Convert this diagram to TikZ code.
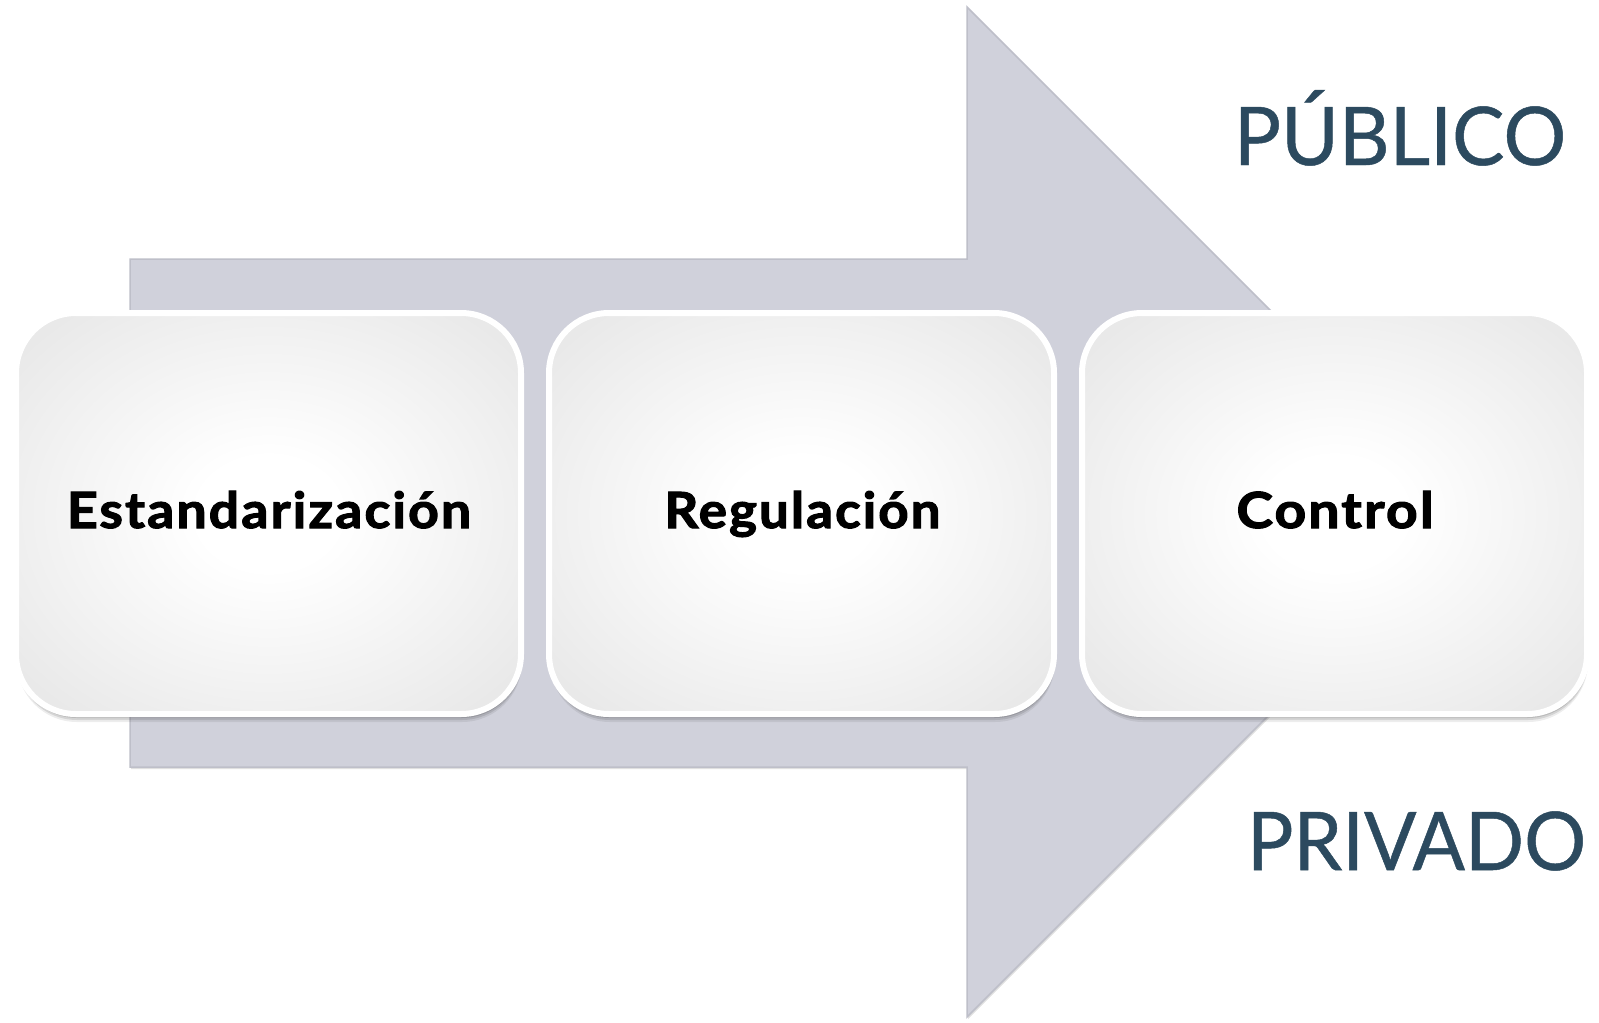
\documentclass[tikz,border=0pt]{standalone}
\usepackage{fontspec}
\setmainfont{Lato}
\newfontfamily\boxfont{Lato}[BoldFeatures={FakeBold=2.2,LetterSpace=4}]
\newfontfamily\sidefont{Lato}[FakeBold=0.6]
\usetikzlibrary{shadows}
\definecolor{arrowfill}{HTML}{D0D1DB}
\definecolor{arrowline}{HTML}{BEBFC9}
\definecolor{labelcol}{HTML}{2C4A5F}
\pgfdeclareradialshading{boxshade}{\pgfpoint{0bp}{0bp}}{color(0bp)=(white); color(7bp)=(white); color(50bp)=(black!15); color(71bp)=(black!21)}
\newcommand\fitlabel[4]{\resizebox{#1}{#2}{#3\setbox0\hbox{#4}\ht0=\fontcharht\font`E \dp0=0pt \box0}}
\tikzset{
  pbox/.style={rectangle, rounded corners=60pt, draw=white, line width=6pt,
    shading=boxshade, inner sep=0pt, minimum width=505pt, minimum height=401pt,
    drop shadow={shadow xshift=1pt, shadow yshift=-8pt, opacity=.07, fill=black},
    drop shadow={shadow xshift=1pt, shadow yshift=-6pt, opacity=.10, fill=black},
    drop shadow={shadow xshift=1pt, shadow yshift=-4pt, opacity=.12, fill=black}},
  boxtxt/.style={anchor=base, inner sep=0pt, text=black},
  sidetxt/.style={anchor=base, inner sep=0pt, text=labelcol},
  bigarrow/.style={fill=arrowfill, draw=arrowline, line width=1.5pt, line join=miter,
    drop shadow={shadow xshift=1pt, shadow yshift=-2pt, opacity=.12, fill=black}}
}
\begin{document}
\begin{tikzpicture}[x=1pt,y=-1pt]
\fill[white] (0,0) rectangle (1599,1023);
\useasboundingbox (0,0) rectangle (1599,1023);
% big arrow
\path[bigarrow] (130,259) -- (967,259) -- (967,7) -- (1472,512) -- (967,1017) -- (967,767) -- (130,767) -- cycle;
% boxes
\node[pbox] (b1) at (268.5,513.5) {};
\node[pbox] (b2) at (801.5,513.5) {};
\node[pbox] (b3) at (1334.5,513.5) {};
% box texts
\node[boxtxt] (t1) at (269,528) {\fitlabel{404pt}{36pt}{\boxfont\bfseries}{Estandarización}};
\node[boxtxt] (t2) at (802.5,528) {\fitlabel{276pt}{36pt}{\boxfont\bfseries}{Regulación}};
\node[boxtxt] (t3) at (1335,528) {\fitlabel{197pt}{36pt}{\boxfont\bfseries}{Control}};
% side labels
\node[sidetxt] (pub) at (1400,165) {\fitlabel{332pt}{58pt}{\sidefont}{PÚBLICO}};
\node[sidetxt] (priv) at (1416.5,870) {\fitlabel{339pt}{58pt}{\sidefont}{PRIVADO}};
\end{tikzpicture}
\end{document}
